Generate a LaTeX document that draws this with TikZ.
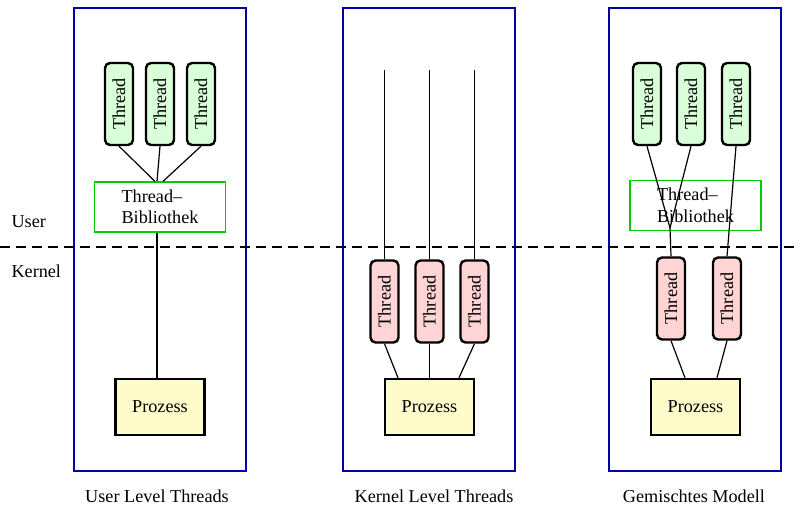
\documentclass[tikz,border=0pt]{standalone}
\usepackage{fontspec}
\setmainfont{Liberation Serif}
\usetikzlibrary{calc, positioning}

\begin{document}
\begin{tikzpicture}
                [x=1pt, y=-1pt,
                font=\fontsize{18.2}{21.5}\selectfont,
                panel/.style={
                    draw=blue!65!black,
                    line width=1.1pt
                },
                uthread/.style={
                    draw,
                    line width=2.4pt,
                    rounded corners=5pt,
                    fill=green!15,
                    minimum width=28pt,
                    minimum height=82pt,
                    inner sep=0pt
                },
                kthread/.style={uthread, fill=red!17},
                lib/.style={
                    draw=green!80!black,
                    line width=1.2pt,
                    minimum width=131pt,
                    minimum height=50pt,
                    align=left,
                    inner sep=0pt
                },
                proc/.style={
                    draw,
                    line width=2.4pt,
                    fill=yellow!20,
                    minimum width=89pt,
                    minimum height=56pt
                },
                line/.style={
                    draw, line width=1.2pt
                },
                divider/.style={
                    draw, line width=2.4pt, dash pattern=on 10pt off 6pt
                }
                ]
                \useasboundingbox (0,0) rectangle (800,506);

                % Panels
                \draw [panel] (74,8) rectangle (246,471);
                \draw [panel] (343,8) rectangle (515,471);
                \draw [panel] (609,8) rectangle (781,471);

                % User / Kernel border
                \coordinate (left) at (0,247);
                \coordinate (right) at (800,247);
                \path [divider] (left) -- (right);
                \node[anchor=west] (user) at (8,222) {User};
                \node[anchor=west] (kernel) at (8,271) {Kernel};

                % User level threads
                \foreach \name/\x in {ut1/119, ut2/160, ut3/201}{
                    \node[uthread] (\name) at (\x,104) {\rotatebox{90}{Thread}};
                }
                \node[lib] (lib1) at (160,207) {Thread--\\Bibliothek};
                \node[proc] (p1) at (160,407) {Prozess};
                \path [line] (ut1.south) -- ([xshift=-5]lib1.north);
                \path [line] (ut2.south) -- ([xshift=-3]lib1.north);
                \path [line] (ut3.south) -- ([xshift=3]lib1.north);
                \path [line] ([xshift=-3]lib1.south) -- ([xshift=-3]p1.north);

                % Kernel level threads
                \foreach \name/\x in {kt1/384.5, kt2/429.5, kt3/474.5}{
                    \coordinate (top\name) at (\x,70);
                    \node[kthread] (\name) at (\x,301.5) {\rotatebox{90}{Thread}};
                    \path [line] (top\name) -- (\name.north);
                }
                \node[proc] (p2) at (429.5,407) {Prozess};
                \path [line] (kt1.south) -- ([xshift=-31.5]p2.north);
                \path [line] (kt2.south) -- (p2.north);
                \path [line] (kt3.south) -- ([xshift=29.5]p2.north);

                % Mixed model
                \foreach \name/\x in {ut4/647, ut5/691, ut6/736}{
                    \node[uthread] (\name) at (\x,104) {\rotatebox{90}{Thread}};
                }
                \node[lib] (lib3) at (695.5,205.5) {Thread--\\Bibliothek};
                \node[kthread] (kt4) at (671,298.5) {\rotatebox{90}{Thread}};
                \node[kthread] (kt5) at (727,298.5) {\rotatebox{90}{Thread}};
                \node[proc] (p3) at (695.5,407) {Prozess};
                \coordinate (join) at (670,228);
                \path [line] (ut4.south) -- (join);
                \path [line] (ut5.south) -- (join);
                \path [line] (join) -- (kt4.north);
                \path [line] (ut6.south) -- (kt5.north);
                \path [line] (kt4.south) -- ([xshift=-10.5]p3.north);
                \path [line] (kt5.south) -- ([xshift=21.5]p3.north);

                % Captions
                \node (cap1) at (157,496) {User Level Threads};
                \node (cap2) at (434,496) {Kernel Level Threads};
                \node (cap3) at (694,496) {Gemischtes Modell};
            \end{tikzpicture}
\end{document}
